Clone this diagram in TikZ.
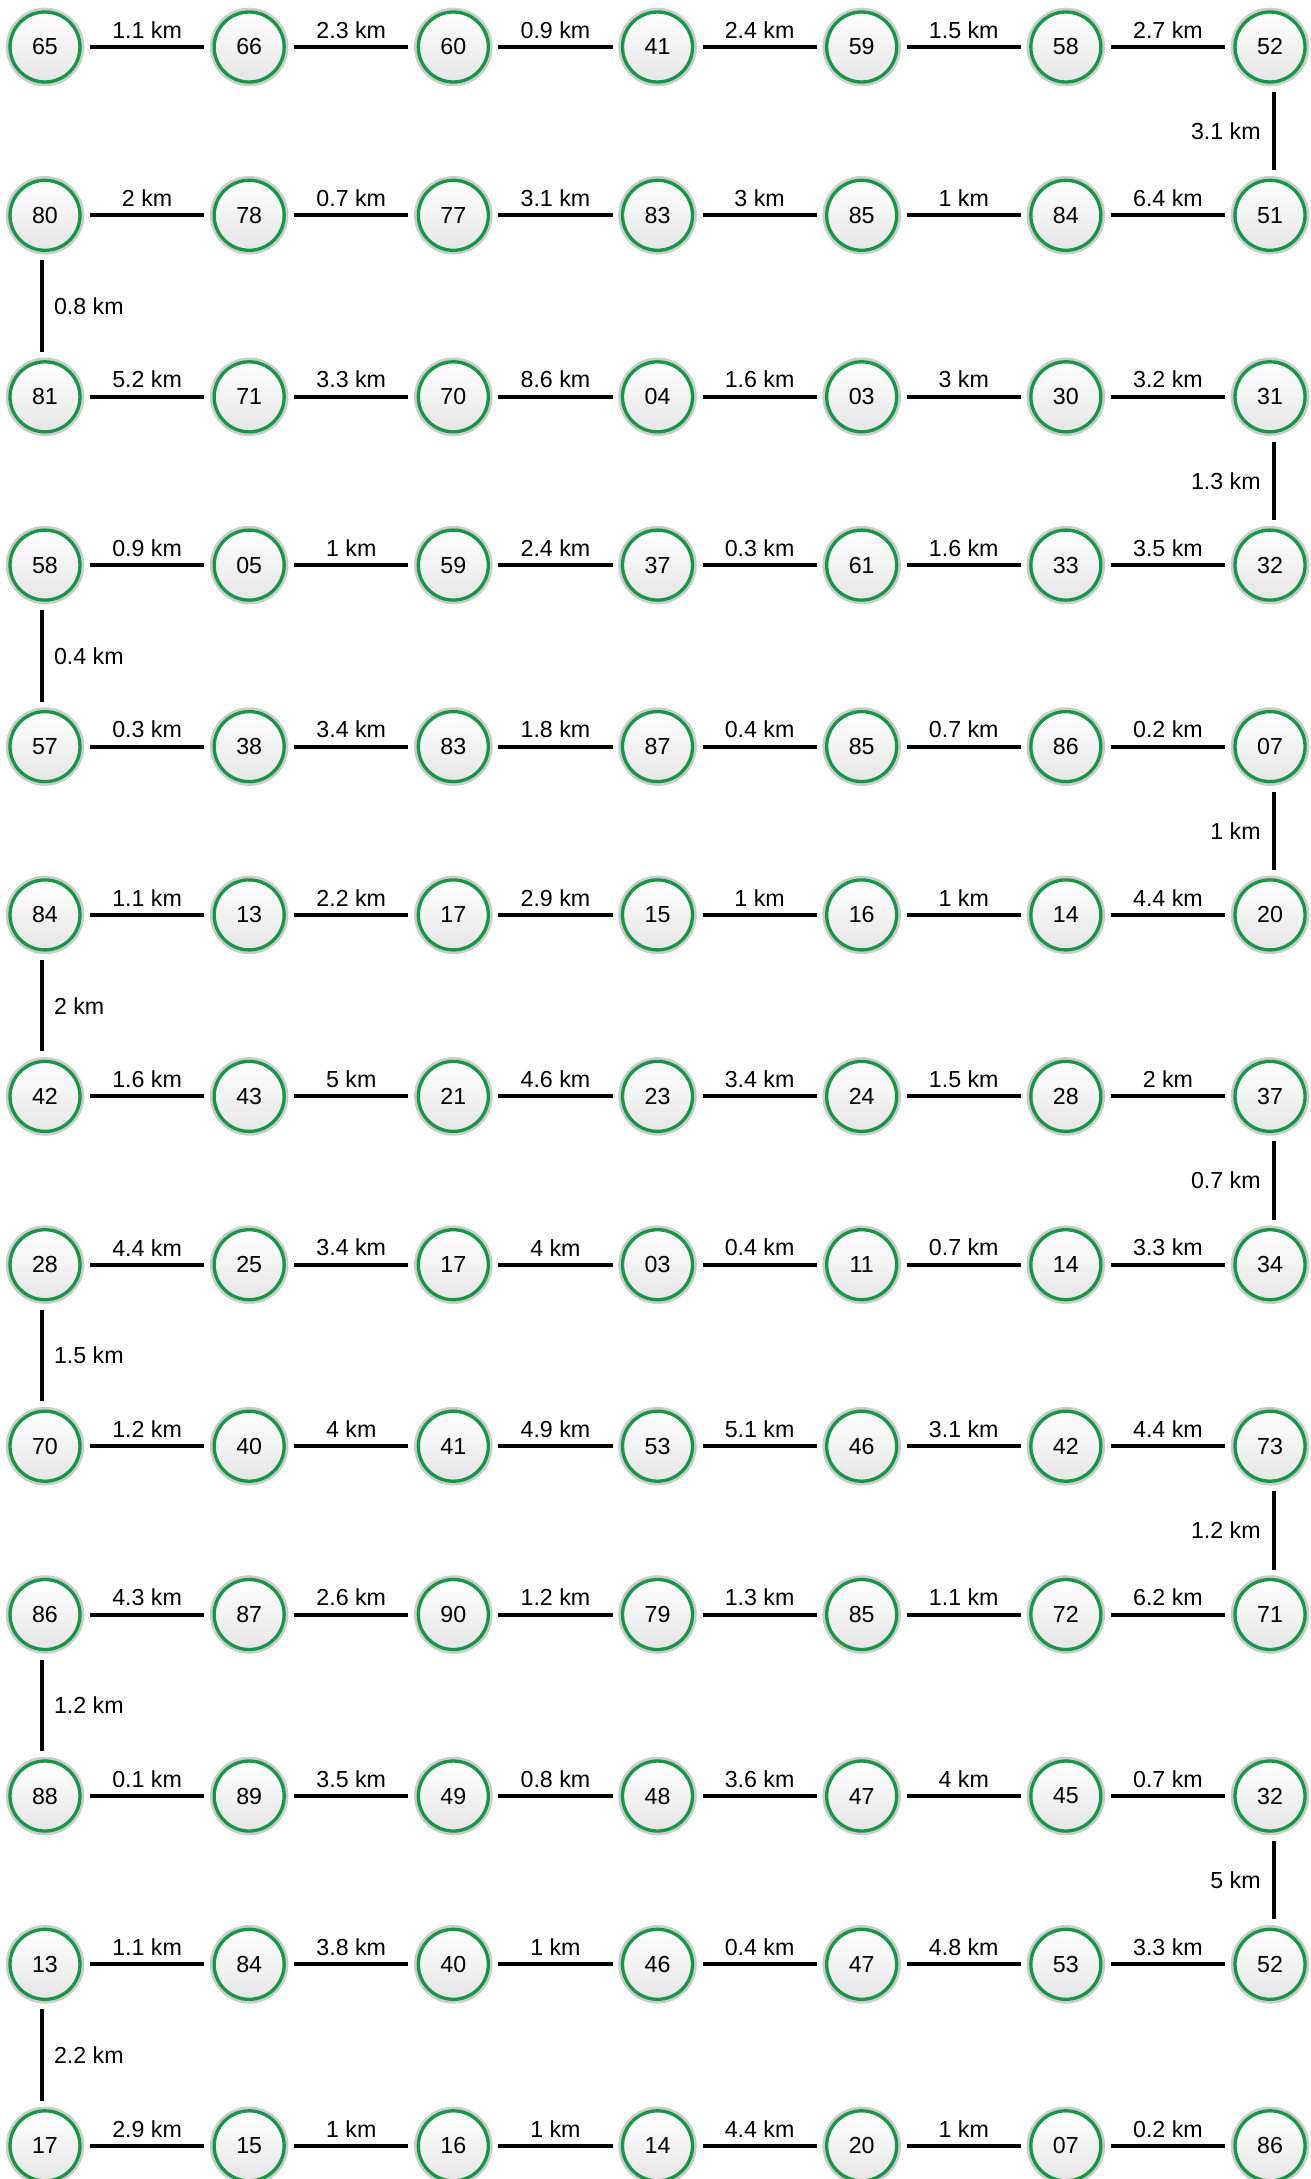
\documentclass[tikz,border=0pt]{standalone}
\usepackage{fontspec}
\setmainfont{Liberation Sans}
\definecolor{ringgreen}{RGB}{24,150,72}
\definecolor{ringgray}{RGB}{204,204,204}

\begin{document}
\begin{tikzpicture}[x=0.5pt, y=-0.5pt,
    font=\fontsize{11.6pt}{14pt}\selectfont,
    station/.style={circle, minimum size=35pt, inner sep=0pt, outer sep=5pt,
        draw=ringgreen, line width=1.65pt, top color=white, bottom color=black!10,
        preaction={draw=ringgray, line width=4.3pt}},
    road/.style={line width=2pt},
    leftturn/.style={road, transform canvas={xshift=-1.5pt}},
    rightturn/.style={road, transform canvas={xshift=1.8pt}},
    dist/.style={above, inner sep=1pt, yshift=2.3pt},
    dleft/.style={left, inner sep=0pt, xshift=-5.5pt},
    dright/.style={right, inner sep=0pt, xshift=5pt}]
    \useasboundingbox (0,0) rectangle (1311,2179);

    % Row 1
    \foreach \nm [count=\c] in {65,66,60,41,59,58,52}
        \node[station] (a\c) at ({45+204.17*(\c-1)}, 47) {\nm};
    \foreach \d [count=\c from 2] in {1.1,2.3,0.9,2.4,1.5,2.7}
        {\pgfmathtruncatemacro\p{\c-1}
         \draw[road] (a\p) -- node[dist] {\d~km} (a\c);}

    % Row 2
    \foreach \nm [count=\c] in {80,78,77,83,85,84,51}
        \node[station] (b\c) at ({45+204.17*(\c-1)}, 215.3) {\nm};
    \foreach \d [count=\c from 2] in {2,0.7,3.1,3,1,6.4}
        {\pgfmathtruncatemacro\p{\c-1}
         \draw[road] (b\p) -- node[dist] {\d~km} (b\c);}

    % Row 3
    \foreach \nm [count=\c] in {81,71,70,04,03,30,31}
        \node[station] (c\c) at ({45+204.17*(\c-1)}, 396.8) {\nm};
    \foreach \d [count=\c from 2] in {5.2,3.3,8.6,1.6,3,3.2}
        {\pgfmathtruncatemacro\p{\c-1}
         \draw[road] (c\p) -- node[dist] {\d~km} (c\c);}

    % Row 4
    \foreach \nm [count=\c] in {58,05,59,37,61,33,32}
        \node[station] (d\c) at ({45+204.17*(\c-1)}, 565.1) {\nm};
    \foreach \d [count=\c from 2] in {0.9,1,2.4,0.3,1.6,3.5}
        {\pgfmathtruncatemacro\p{\c-1}
         \draw[road] (d\p) -- node[dist] {\d~km} (d\c);}

    % Row 5
    \foreach \nm [count=\c] in {57,38,83,87,85,86,07}
        \node[station] (e\c) at ({45+204.17*(\c-1)}, 746.6) {\nm};
    \foreach \d [count=\c from 2] in {0.3,3.4,1.8,0.4,0.7,0.2}
        {\pgfmathtruncatemacro\p{\c-1}
         \draw[road] (e\p) -- node[dist] {\d~km} (e\c);}

    % Row 6
    \foreach \nm [count=\c] in {84,13,17,15,16,14,20}
        \node[station] (f\c) at ({45+204.17*(\c-1)}, 914.9) {\nm};
    \foreach \d [count=\c from 2] in {1.1,2.2,2.9,1,1,4.4}
        {\pgfmathtruncatemacro\p{\c-1}
         \draw[road] (f\p) -- node[dist] {\d~km} (f\c);}

    % Row 7
    \foreach \nm [count=\c] in {42,43,21,23,24,28,37}
        \node[station] (g\c) at ({45+204.17*(\c-1)}, 1096.4) {\nm};
    \foreach \d [count=\c from 2] in {1.6,5,4.6,3.4,1.5,2}
        {\pgfmathtruncatemacro\p{\c-1}
         \draw[road] (g\p) -- node[dist] {\d~km} (g\c);}

    % Row 8
    \foreach \nm [count=\c] in {28,25,17,03,11,14,34}
        \node[station] (h\c) at ({45+204.17*(\c-1)}, 1264.7) {\nm};
    \foreach \d [count=\c from 2] in {4.4,3.4,4,0.4,0.7,3.3}
        {\pgfmathtruncatemacro\p{\c-1}
         \draw[road] (h\p) -- node[dist] {\d~km} (h\c);}

    % Row 9
    \foreach \nm [count=\c] in {70,40,41,53,46,42,73}
        \node[station] (i\c) at ({45+204.17*(\c-1)}, 1446.2) {\nm};
    \foreach \d [count=\c from 2] in {1.2,4,4.9,5.1,3.1,4.4}
        {\pgfmathtruncatemacro\p{\c-1}
         \draw[road] (i\p) -- node[dist] {\d~km} (i\c);}

    % Row 10
    \foreach \nm [count=\c] in {86,87,90,79,85,72,71}
        \node[station] (j\c) at ({45+204.17*(\c-1)}, 1614.5) {\nm};
    \foreach \d [count=\c from 2] in {4.3,2.6,1.2,1.3,1.1,6.2}
        {\pgfmathtruncatemacro\p{\c-1}
         \draw[road] (j\p) -- node[dist] {\d~km} (j\c);}

    % Row 11
    \foreach \nm [count=\c] in {88,89,49,48,47,45,32}
        \node[station] (k\c) at ({45+204.17*(\c-1)}, 1796) {\nm};
    \foreach \d [count=\c from 2] in {0.1,3.5,0.8,3.6,4,0.7}
        {\pgfmathtruncatemacro\p{\c-1}
         \draw[road] (k\p) -- node[dist] {\d~km} (k\c);}

    % Row 12
    \foreach \nm [count=\c] in {13,84,40,46,47,53,52}
        \node[station] (l\c) at ({45+204.17*(\c-1)}, 1964.3) {\nm};
    \foreach \d [count=\c from 2] in {1.1,3.8,1,0.4,4.8,3.3}
        {\pgfmathtruncatemacro\p{\c-1}
         \draw[road] (l\p) -- node[dist] {\d~km} (l\c);}

    % Row 13
    \foreach \nm [count=\c] in {17,15,16,14,20,07,86}
        \node[station] (m\c) at ({45+204.17*(\c-1)}, 2145.8) {\nm};
    \foreach \d [count=\c from 2] in {2.9,1,1,4.4,1,0.2}
        {\pgfmathtruncatemacro\p{\c-1}
         \draw[road] (m\p) -- node[dist] {\d~km} (m\c);}

    % Turns between rows
    \draw[rightturn] (a7) -- node[dleft] {3.1 km} (b7);
    \draw[leftturn] (b1) -- node[dright] {0.8 km} (c1);
    \draw[rightturn] (c7) -- node[dleft] {1.3 km} (d7);
    \draw[leftturn] (d1) -- node[dright] {0.4 km} (e1);
    \draw[rightturn] (e7) -- node[dleft] {1 km} (f7);
    \draw[leftturn] (f1) -- node[dright] {2 km} (g1);
    \draw[rightturn] (g7) -- node[dleft] {0.7 km} (h7);
    \draw[leftturn] (h1) -- node[dright] {1.5 km} (i1);
    \draw[rightturn] (i7) -- node[dleft] {1.2 km} (j7);
    \draw[leftturn] (j1) -- node[dright] {1.2 km} (k1);
    \draw[rightturn] (k7) -- node[dleft] {5 km} (l7);
    \draw[leftturn] (l1) -- node[dright] {2.2 km} (m1);
\end{tikzpicture}
\end{document}
